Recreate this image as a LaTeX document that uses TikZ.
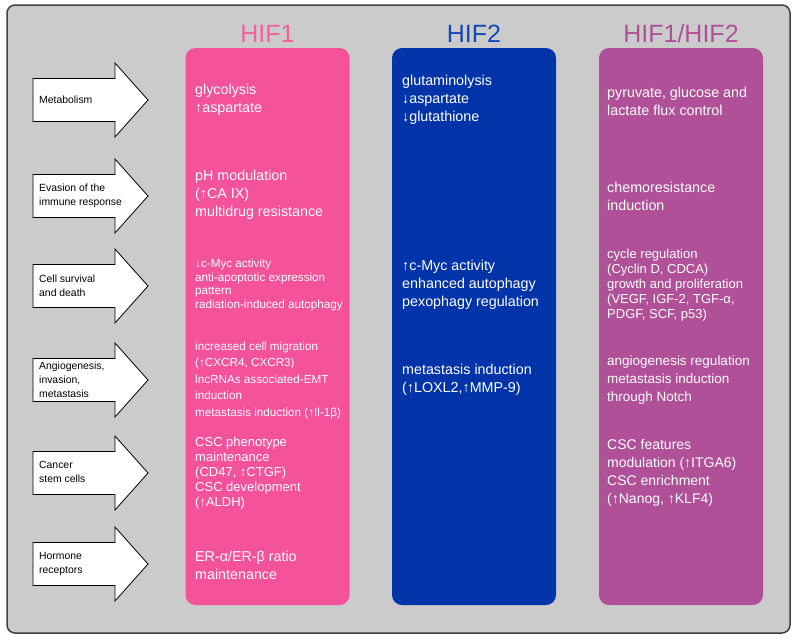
\documentclass[tikz,border=0pt]{standalone}
\usepackage{fontspec}
\setmainfont{Liberation Sans}
\definecolor{bggray}{RGB}{203, 203, 203}
\definecolor{framegray}{RGB}{64, 64, 64}
\definecolor{hifpink}{RGB}{244, 83, 155}
\definecolor{headpink}{RGB}{242, 96, 160}
\definecolor{hifblue}{RGB}{0, 52, 168}
\definecolor{headblue}{RGB}{20, 72, 186}
\definecolor{hifpurple}{RGB}{176, 80, 152}
\usetikzlibrary{positioning, calc}

\begin{document}
\begin{tikzpicture}[x=1pt, y=-1pt,
  colbox/.style={rounded corners=10pt, minimum width=164pt, minimum height=557pt, inner sep=0pt},
  colhead/.style={font=\fontsize{25}{28}\selectfont, inner sep=0pt},
  rowarrow/.style={draw=black, fill=white, line width=0.8pt, line join=miter},
  rowlabel/.style={font=\fontsize{10.4}{13.8}\selectfont, align=left, anchor=west, inner sep=0pt},
  effect/.style={text=white, font=\fontsize{14.3}{18}\selectfont, align=left, anchor=west, inner sep=0pt},
]
  \useasboundingbox (0, 0) rectangle (795, 638);

  % Panel
  \draw[framegray, line width=1.5pt, fill=bggray, rounded corners=8pt] (7, 5) rectangle (790, 633);

  % Columns
  \node[colbox, fill=hifpink] (hifone) at (267.5, 326.5) {};
  \node[colbox, fill=hifblue] (hiftwo) at (474, 326.5) {};
  \node[colbox, fill=hifpurple] (hifboth) at (681, 326.5) {};

  \node[colhead, text=headpink, above=5pt of hifone, anchor=base] (headone) {HIF1};
  \node[colhead, text=headblue, above=5pt of hiftwo, anchor=base] (headtwo) {HIF2};
  \node[colhead, text=hifpurple, above=5pt of hifboth, anchor=base] (headboth) {HIF1/HIF2};

  % Row arrows
  \foreach \y in {100, 196, 286, 380, 473, 564}
    \draw[rowarrow] (33, \y-21.5) -- (115, \y-21.5) -- (115, \y-37) -- (148, \y)
      -- (115, \y+37) -- (115, \y+21.5) -- (33, \y+21.5) -- cycle;

  \node[rowlabel] (lmet) at (39, 100) {Metabolism};
  \node[rowlabel] (limm) at (39, 196) {Evasion of the\\immune response};
  \node[rowlabel] (lsurv) at (39, 286) {Cell survival\\and death};
  \node[rowlabel] (langio) at (39, 380) {Angiogenesis,\\invasion,\\metastasis};
  \node[rowlabel] (lstem) at (39, 472) {Cancer\\stem cells};
  \node[rowlabel] (lhorm) at (39, 564) {Hormone\\receptors};

  % HIF1
  \node[effect] (onemet) at (195, 100) {glycolysis\\↑aspartate};
  \node[effect] (oneimm) at (195, 195) {pH modulation\\(↑CA IX)\\multidrug resistance};
  \node[effect, font=\fontsize{11.7}{13.7}\selectfont] (onesurv) at (195, 285) {↓c-Myc activity\\anti-apoptotic expression\\pattern\\radiation-induced autophagy};
  \node[effect, font=\fontsize{11.7}{16.5}\selectfont] (oneangio) at (195, 380) {increased cell migration\\(↑CXCR4, CXCR3)\\lncRNAs associated-EMT\\induction\\metastasis induction (↑Il-1β)};
  \node[effect, font=\fontsize{13}{15}\selectfont] (onestem) at (195, 473) {CSC phenotype\\maintenance\\(CD47, ↑CTGF)\\CSC development\\(↑ALDH)};
  \node[effect] (onehorm) at (195, 565) {ER-α/ER-β ratio\\maintenance};

  % HIF2
  \node[effect] (twomet) at (402, 100) {glutaminolysis\\↓aspartate\\↓glutathione};
  \node[effect] (twosurv) at (402, 285) {↑c-Myc activity\\enhanced autophagy\\pexophagy regulation};
  \node[effect] (twoangio) at (402, 380) {metastasis induction\\(↑LOXL2,↑MMP-9)};

  % HIF1/HIF2
  \node[effect] (bothmet) at (607, 101) {pyruvate, glucose and\\lactate flux control};
  \node[effect] (bothimm) at (607, 196) {chemoresistance\\induction};
  \node[effect, font=\fontsize{13}{15}\selectfont] (bothsurv) at (607, 285) {cycle regulation\\(Cyclin D, CDCA)\\growth and proliferation\\(VEGF, IGF-2, TGF-α,\\PDGF, SCF, p53)};
  \node[effect, font=\fontsize{13.5}{18}\selectfont] (bothangio) at (607, 380) {angiogenesis regulation\\metastasis induction\\through Notch};
  \node[effect, font=\fontsize{14}{18}\selectfont] (bothstem) at (607, 473) {CSC features\\modulation (↑ITGA6)\\CSC enrichment\\(↑Nanog, ↑KLF4)};
\end{tikzpicture}
\end{document}
